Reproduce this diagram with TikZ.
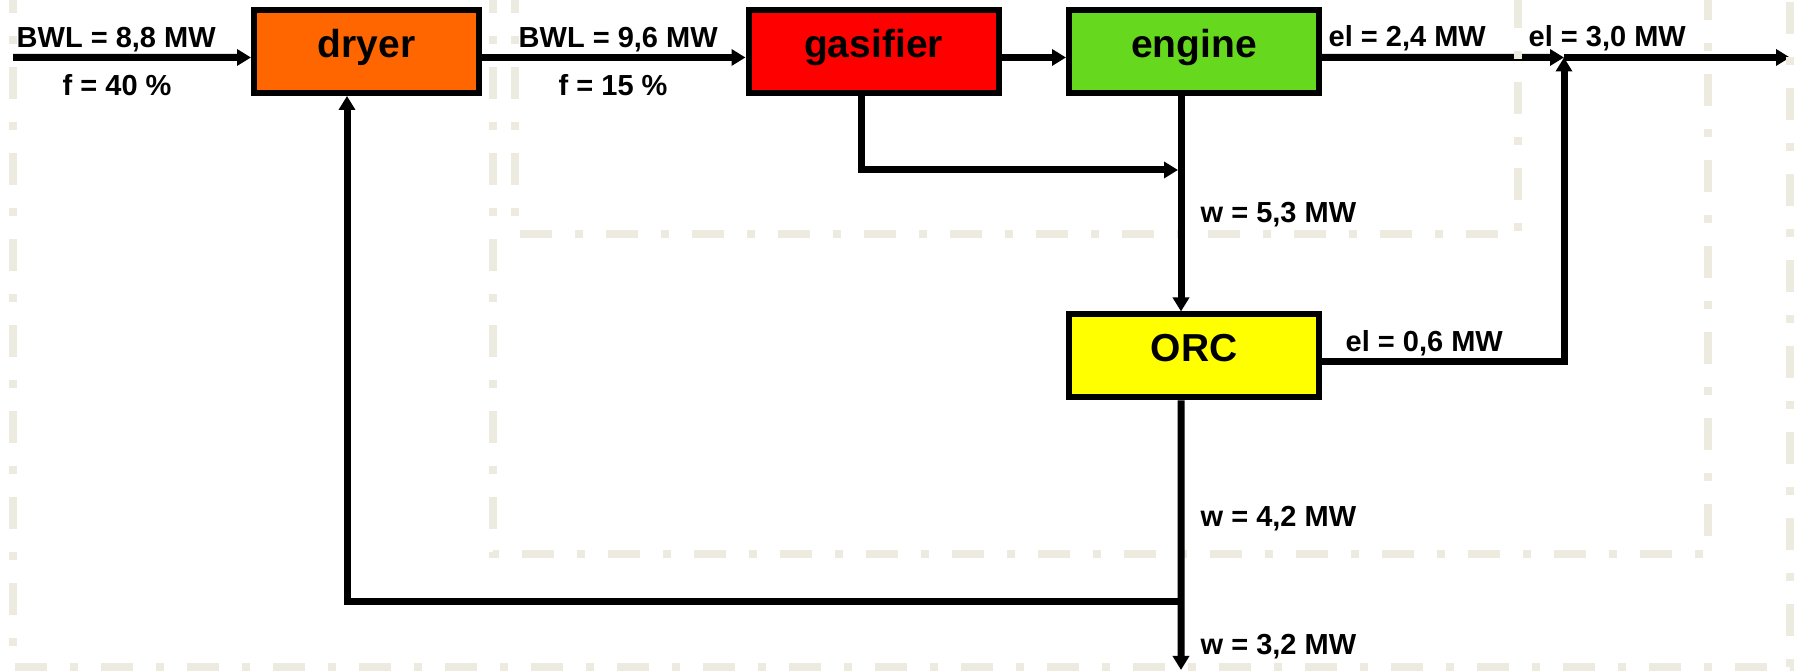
\documentclass[tikz,border=0pt]{standalone}
\usepackage{fontspec}
\setmainfont{Liberation Sans}
\usetikzlibrary{arrows.meta}
\definecolor{BioOrange}{RGB}{255,102,0}
\definecolor{BioRed}{RGB}{255,0,0}
\definecolor{BioGreen}{RGB}{102,217,30}
\definecolor{BioYellow}{RGB}{255,255,0}
\definecolor{BioFrame}{RGB}{237,234,223}
\tikzset{
  bio/box/.style={
    draw=black,
    line width=0.06cm,
    minimum width=2.50cm,
    minimum height=0.83cm,
    inner sep=0pt,
    text height=0.30cm,
    text depth=0.18cm,
    font=\fontsize{11.1}{13}\selectfont\bfseries
  },
  bio/label/.style={anchor=base west, inner sep=0pt, font=\fontsize{8.25}{10}\selectfont\bfseries},
  bio/flow/.style={-{Triangle[length=1.4mm,width=1.6mm]}, line width=0.07cm, draw=black},
  bio/frame/.style={draw=BioFrame, line width=0.08cm, dash pattern=on 0.32cm off 0.23cm on 0.08cm off 0.23cm}
}

\begin{document}
\begin{tikzpicture}[x=1cm,y=1cm]
  \useasboundingbox (0,0) rectangle (17.97,6.71);

  \node[bio/box,fill=BioOrange,minimum width=2.25cm] (dryer) at (3.665,6.195) {dryer};
  \node[bio/box,fill=BioRed] (gasifier) at (8.735,6.195) {gasifier};
  \node[bio/box,fill=BioGreen] (engine) at (11.94,6.195) {engine};
  \node[bio/box,fill=BioYellow] (orc) at (11.94,3.15) {ORC};

  \coordinate (src) at (0.13,6.135);
  \coordinate (join) at (15.64,6.135);
  \coordinate (out) at (17.90,6.135);
  \coordinate (heat) at (11.78,5.01);
  \coordinate (split) at (11.81,0.69);
  \coordinate (sink) at (11.81,0.01);

  % main line
  \draw[bio/flow] (src) -- (dryer.base west);
  \draw[bio/flow] (dryer.base east) -- (gasifier.base west);
  \draw[bio/flow] (gasifier.base east) -- (engine.base west);
  \draw[bio/flow] (engine.base east) -- (join);
  \draw[bio/flow] (join) -- (out);

  % system borders
  \draw[bio/frame] (0.13,6.9) -- (0.13,0.04) -- (17.90,0.04) -- (17.90,6.9);
  \draw[bio/frame] (4.93,6.9) -- (4.93,1.17) -- (17.08,1.17) -- (17.08,6.9);
  \draw[bio/frame] (5.15,6.9) -- (5.15,4.37) -- (15.18,4.37) -- (15.18,6.9);

  % heat
  \draw[bio/flow] (orc.base east) -| (join);
  \draw[bio/flow] ([xshift=-1.25mm]gasifier.south) |- (heat);
  \draw[bio/flow] ([xshift=-1.3mm]engine.south) -- ([xshift=-1.3mm]orc.north);
  \draw[bio/flow] ([xshift=-1.3mm]orc.south) -- (sink);
  \draw[bio/flow] (split) -| ([xshift=-1.95mm]dryer.south);

  \node[bio/label] (bwlin) at (0.16,6.23) {BWL = 8,8 MW};
  \node[bio/label] (fin) at (0.62,5.75) {f = 40 \%};
  \node[bio/label] (bwldry) at (5.18,6.23) {BWL = 9,6 MW};
  \node[bio/label] (fdry) at (5.58,5.75) {f = 15 \%};
  \node[bio/label] (eleng) at (13.28,6.24) {el = 2,4 MW};
  \node[bio/label] (elsum) at (15.28,6.24) {el = 3,0 MW};
  \node[bio/label] (weng) at (12.00,4.48) {w = 5,3 MW};
  \node[bio/label] (elorc) at (13.45,3.19) {el = 0,6 MW};
  \node[bio/label] (worc) at (12.00,1.44) {w = 4,2 MW};
  \node[bio/label] (wrest) at (12.00,0.16) {w = 3,2 MW};
\end{tikzpicture}
\end{document}
